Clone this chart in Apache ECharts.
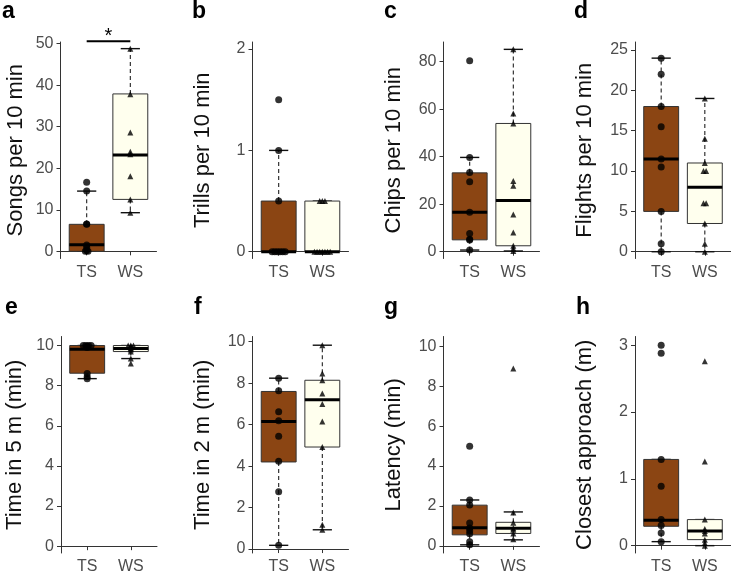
<!DOCTYPE html>
<html><head><meta charset="utf-8">
<script src="https://cdn.jsdelivr.net/npm/echarts@6/dist/echarts.min.js"></script>
<style>html,body{margin:0;padding:0;background:#fff}#c{width:731px;height:575px}</style>
</head><body><div id="c"></div>
<script>
const groups = ['TS', 'WS'];

// a: Songs per 10 min
const songsTicks = [0, 10, 20, 30, 40, 50];
const songsTS = [16.6, 14.5, 6.6, 6.5, 1.5, 1.0, 0.2, 0, 0];
const songsWS = [48.8, 37.8, 28.6, 24.0, 23.4, 18.1, 12.5, 9.3];
const songsBoxTS = [0, 0, 1.6, 6.5, 14.5];
const songsBoxWS = [9.3, 12.5, 23.2, 37.9, 48.8];
const songsSig = [1, 2, 50.6];

// b: Trills per 10 min
const trillsTicks = [0, 1, 2];
const trillsTS = [1.5, 1.0, 0.5, 0, 0, 0, 0, 0, 0];
const trillsWS = [0.5, 0.5, 0.5, 0, 0, 0, 0, 0, 0, 0];
const trillsBoxTS = [0, 0, 0, 0.5, 1.0];
const trillsBoxWS = [0, 0, 0, 0.5, 0.5];

// c: Chips per 10 min
const chipsTicks = [0, 20, 40, 60, 80];
const chipsTS = [80.4, 39.7, 33.3, 29.5, 16.6, 7.7, 5.2, 4.9, 0.7];
const chipsWS = [85.2, 58.2, 54.0, 29.8, 27.8, 15.7, 8.1, 2.5, 1.4, 0.3];
const chipsBoxTS = [0.7, 5.0, 16.6, 33.2, 39.7];
const chipsBoxWS = [0.3, 2.5, 21.6, 54.0, 85.2];

// d: Flights per 10 min
const flightsTicks = [0, 5, 10, 15, 20, 25];
const flightsTS = [24, 22, 18, 15.5, 11.5, 10.5, 5, 1, 0];
const flightsWS = [19, 14, 11, 10, 10, 6, 6, 3.5, 1, 0];
const flightsBoxTS = [0, 5, 11.5, 18, 24];
const flightsBoxWS = [0, 3.5, 8, 11, 19];

// e: Time in 5 m (min)
const time5Ticks = [0, 2, 4, 6, 8, 10];
const time5TS = [10, 10, 10, 10, 9.95, 9.9, 8.6, 8.45, 8.35];
const time5WS = [10, 10, 10, 9.95, 9.9, 9.85, 9.8, 9.7, 9.35, 9.1];
const time5BoxTS = [8.35, 8.62, 9.82, 10, 10];
const time5BoxWS = [9.35, 9.7, 9.85, 10, 10];

// f: Time in 2 m (min)
const time2Ticks = [0, 2, 4, 6, 8, 10];
const time2TS = [8.24, 7.63, 6.62, 6.19, 5.44, 4.23, 2.76, 0.18];
const time2WS = [9.83, 8.46, 8.14, 7.5, 7.0, 6.15, 4.92, 1.17, 0.93];
const time2BoxTS = [0.18, 4.2, 6.15, 7.6, 8.24];
const time2BoxWS = [0.93, 4.92, 7.2, 8.14, 9.83];

// g: Latency (min)
const latTicks = [0, 2, 4, 6, 8, 10];
const latTS = [5.0, 2.3, 2.05, 1.15, 0.9, 0.75, 0.6, 0.2, 0.05];
const latWS = [8.9, 1.67, 1.16, 0.88, 0.8, 0.62, 0.33];
const latBoxTS = [0.05, 0.55, 0.91, 2.04, 2.3];
const latBoxWS = [0.3, 0.62, 0.88, 1.18, 1.7];

// h: Closest approach (m)
const closeTicks = [0, 1, 2, 3];
const closeTS = [3.0, 2.88, 1.29, 0.89, 0.39, 0.3, 0.19, 0.06];
const closeWS = [2.76, 1.26, 0.39, 0.25, 0.22, 0.18, 0.09, 0.04, 0.0];
const closeBoxTS = [0.06, 0.29, 0.38, 1.29, 1.29];
const closeBoxWS = [0, 0.09, 0.22, 0.39, 0.39];

const panels = [
  {letter: 'a', name: 'Songs per 10 min', ticks: songsTicks, ts: songsTS, ws: songsWS, bts: songsBoxTS, bws: songsBoxWS, sig: songsSig},
  {letter: 'b', name: 'Trills per 10 min', ticks: trillsTicks, ts: trillsTS, ws: trillsWS, bts: trillsBoxTS, bws: trillsBoxWS},
  {letter: 'c', name: 'Chips per 10 min', ticks: chipsTicks, ts: chipsTS, ws: chipsWS, bts: chipsBoxTS, bws: chipsBoxWS},
  {letter: 'd', name: 'Flights per 10 min', ticks: flightsTicks, ts: flightsTS, ws: flightsWS, bts: flightsBoxTS, bws: flightsBoxWS},
  {letter: 'e', name: 'Time in 5 m (min)', ticks: time5Ticks, ts: time5TS, ws: time5WS, bts: time5BoxTS, bws: time5BoxWS},
  {letter: 'f', name: 'Time in 2 m (min)', ticks: time2Ticks, ts: time2TS, ws: time2WS, bts: time2BoxTS, bws: time2BoxWS},
  {letter: 'g', name: 'Latency (min)', ticks: latTicks, ts: latTS, ws: latWS, bts: latBoxTS, bws: latBoxWS},
  {letter: 'h', name: 'Closest approach (m)', ticks: closeTicks, ts: closeTS, ws: closeWS, bts: closeBoxTS, bws: closeBoxWS}
];

// layout (pixels / axis extents)
const layout = [
  {left: 60.5, top: 42, height: 216.5, yMin: -1.73, yMax: 50.4, gap: 34, lx: 2, ly: 12},
  {left: 252.5, top: 42, height: 216.5, yMin: -0.067, yMax: 2.07, gap: 39, lx: 192, ly: 12},
  {left: 443.5, top: 42, height: 216.5, yMin: -2.86, yMax: 88.3, gap: 39, lx: 384, ly: 12},
  {left: 635, top: 42, height: 216.5, yMin: -0.84, yMax: 26.0, gap: 39, lx: 574, ly: 12},
  {left: 61, top: 336.5, height: 218.5, yMin: -0.34, yMax: 10.45, gap: 35, lx: 5, ly: 308},
  {left: 252.5, top: 336.5, height: 218.5, yMin: -0.19, yMax: 10.25, gap: 39, lx: 194, ly: 308},
  {left: 443.5, top: 336.5, height: 218.5, yMin: -0.36, yMax: 10.5, gap: 39, lx: 384, ly: 308},
  {left: 635, top: 336.5, height: 218.5, yMin: -0.11, yMax: 3.13, gap: 39, lx: 576, ly: 308}
];
const PW = 96;
const FONT = '"Liberation Sans", Arial, Helvetica, sans-serif';
const FILLS = ['#8B4513', '#FFFFEE'];

function spread(values, x) {
  const counts = {};
  values.forEach(v => { counts[v] = (counts[v] || 0) + 1; });
  const seen = {};
  return values.map(v => {
    const n = counts[v];
    const k = (seen[v] = (seen[v] || 0) + 1);
    const off = n > 1 ? (k - 1 - (n - 1) / 2) * 0.06 : 0;
    return [x + off, v];
  });
}

function seg(p1, p2, style) {
  return {type: 'line', shape: {x1: p1[0], y1: p1[1], x2: p2[0], y2: p2[1]}, style: style};
}

function boxRender(params, api) {
  const x = api.value(0), lo = api.value(1), q1 = api.value(2), md = api.value(3), q3 = api.value(4), hi = api.value(5);
  const BW = 0.4, CW = 0.22;
  const dash = {stroke: '#222', lineWidth: 1.1, lineDash: [4, 3]};
  const solid = {stroke: '#111', lineWidth: 1.4};
  const ch = [];
  if (hi > q3) {
    ch.push(seg(api.coord([x, q3]), api.coord([x, hi]), dash));
  }
  ch.push(seg(api.coord([x - CW, hi]), api.coord([x + CW, hi]), solid));
  if (lo < q1) {
    ch.push(seg(api.coord([x, q1]), api.coord([x, lo]), dash));
  }
  ch.push(seg(api.coord([x - CW, lo]), api.coord([x + CW, lo]), solid));
  const tl = api.coord([x - BW, q3]);
  const br = api.coord([x + BW, q1]);
  ch.push({type: 'rect', shape: {x: tl[0], y: tl[1], width: br[0] - tl[0], height: br[1] - tl[1]},
    style: {fill: FILLS[params.dataIndex], stroke: '#333', lineWidth: 1}});
  ch.push(seg(api.coord([x - BW, md]), api.coord([x + BW, md]), {stroke: '#000', lineWidth: 3}));
  return {type: 'group', children: ch};
}

function sigRender(params, api) {
  const p1 = api.coord([api.value(0), api.value(2)]);
  const p2 = api.coord([api.value(1), api.value(2)]);
  return {type: 'group', children: [
    seg(p1, p2, {stroke: '#000', lineWidth: 2}),
    {type: 'text', style: {text: '*', x: (p1[0] + p2[0]) / 2, y: p1[1] - 5, textAlign: 'center', textVerticalAlign: 'middle',
      font: '20px ' + FONT, fill: '#000'}}
  ]};
}

const grids = [], xAxes = [], yAxes = [], series = [], graphics = [];
panels.forEach((p, i) => {
  const L = layout[i];
  grids.push({left: L.left, top: L.top, width: PW, height: L.height});
  xAxes.push({
    type: 'value', gridIndex: i, min: 0.4, max: 2.6, splitLine: {show: false},
    axisLine: {show: true, lineStyle: {color: '#333', width: 1}},
    axisTick: {show: true, customValues: [1, 2], length: 4, lineStyle: {color: '#333'}},
    axisLabel: {customValues: [1, 2], formatter: v => groups[Math.round(v) - 1], color: '#4D4D4D', fontSize: 16, fontFamily: FONT, margin: 6}
  });
  yAxes.push({
    type: 'value', gridIndex: i, min: L.yMin, max: L.yMax, splitLine: {show: false},
    name: p.name, nameLocation: 'middle', nameGap: L.gap, nameRotate: 90,
    nameTextStyle: {fontSize: 22, color: '#111', fontFamily: FONT},
    axisLine: {show: true, lineStyle: {color: '#333', width: 1}},
    axisTick: {show: true, customValues: p.ticks, length: 4, lineStyle: {color: '#333'}},
    axisLabel: {customValues: p.ticks, color: '#4D4D4D', fontSize: 16, fontFamily: FONT, margin: 7}
  });
  series.push({
    type: 'custom', xAxisIndex: i, yAxisIndex: i, renderItem: boxRender, clip: false, z: 2,
    encode: {x: 0, y: [1, 2, 3, 4, 5]},
    data: [[1].concat(p.bts), [2].concat(p.bws)]
  });
  series.push({
    type: 'scatter', xAxisIndex: i, yAxisIndex: i, symbol: 'circle', symbolSize: 7, z: 3,
    itemStyle: {color: '#000'}, data: spread(p.ts, 1), silent: true
  });
  series.push({
    type: 'scatter', xAxisIndex: i, yAxisIndex: i, symbol: 'triangle', symbolSize: 6, z: 3,
    itemStyle: {color: '#000'}, data: spread(p.ws, 2), silent: true
  });
  if (p.sig) {
    series.push({type: 'custom', xAxisIndex: i, yAxisIndex: i, renderItem: sigRender, clip: false, z: 4,
      data: [p.sig]});
  }
  graphics.push({type: 'text', x: L.lx, y: L.ly,
    style: {text: p.letter, font: 'bold 23px ' + FONT, fill: '#000', textAlign: 'left', textVerticalAlign: 'middle'}});
});

const chart = echarts.init(document.getElementById('c'), null, {renderer: 'canvas'});
chart.setOption({
  animation: false,
  backgroundColor: '#fff',
  grid: grids, xAxis: xAxes, yAxis: yAxes, series: series, graphic: graphics
});
</script></body></html>
